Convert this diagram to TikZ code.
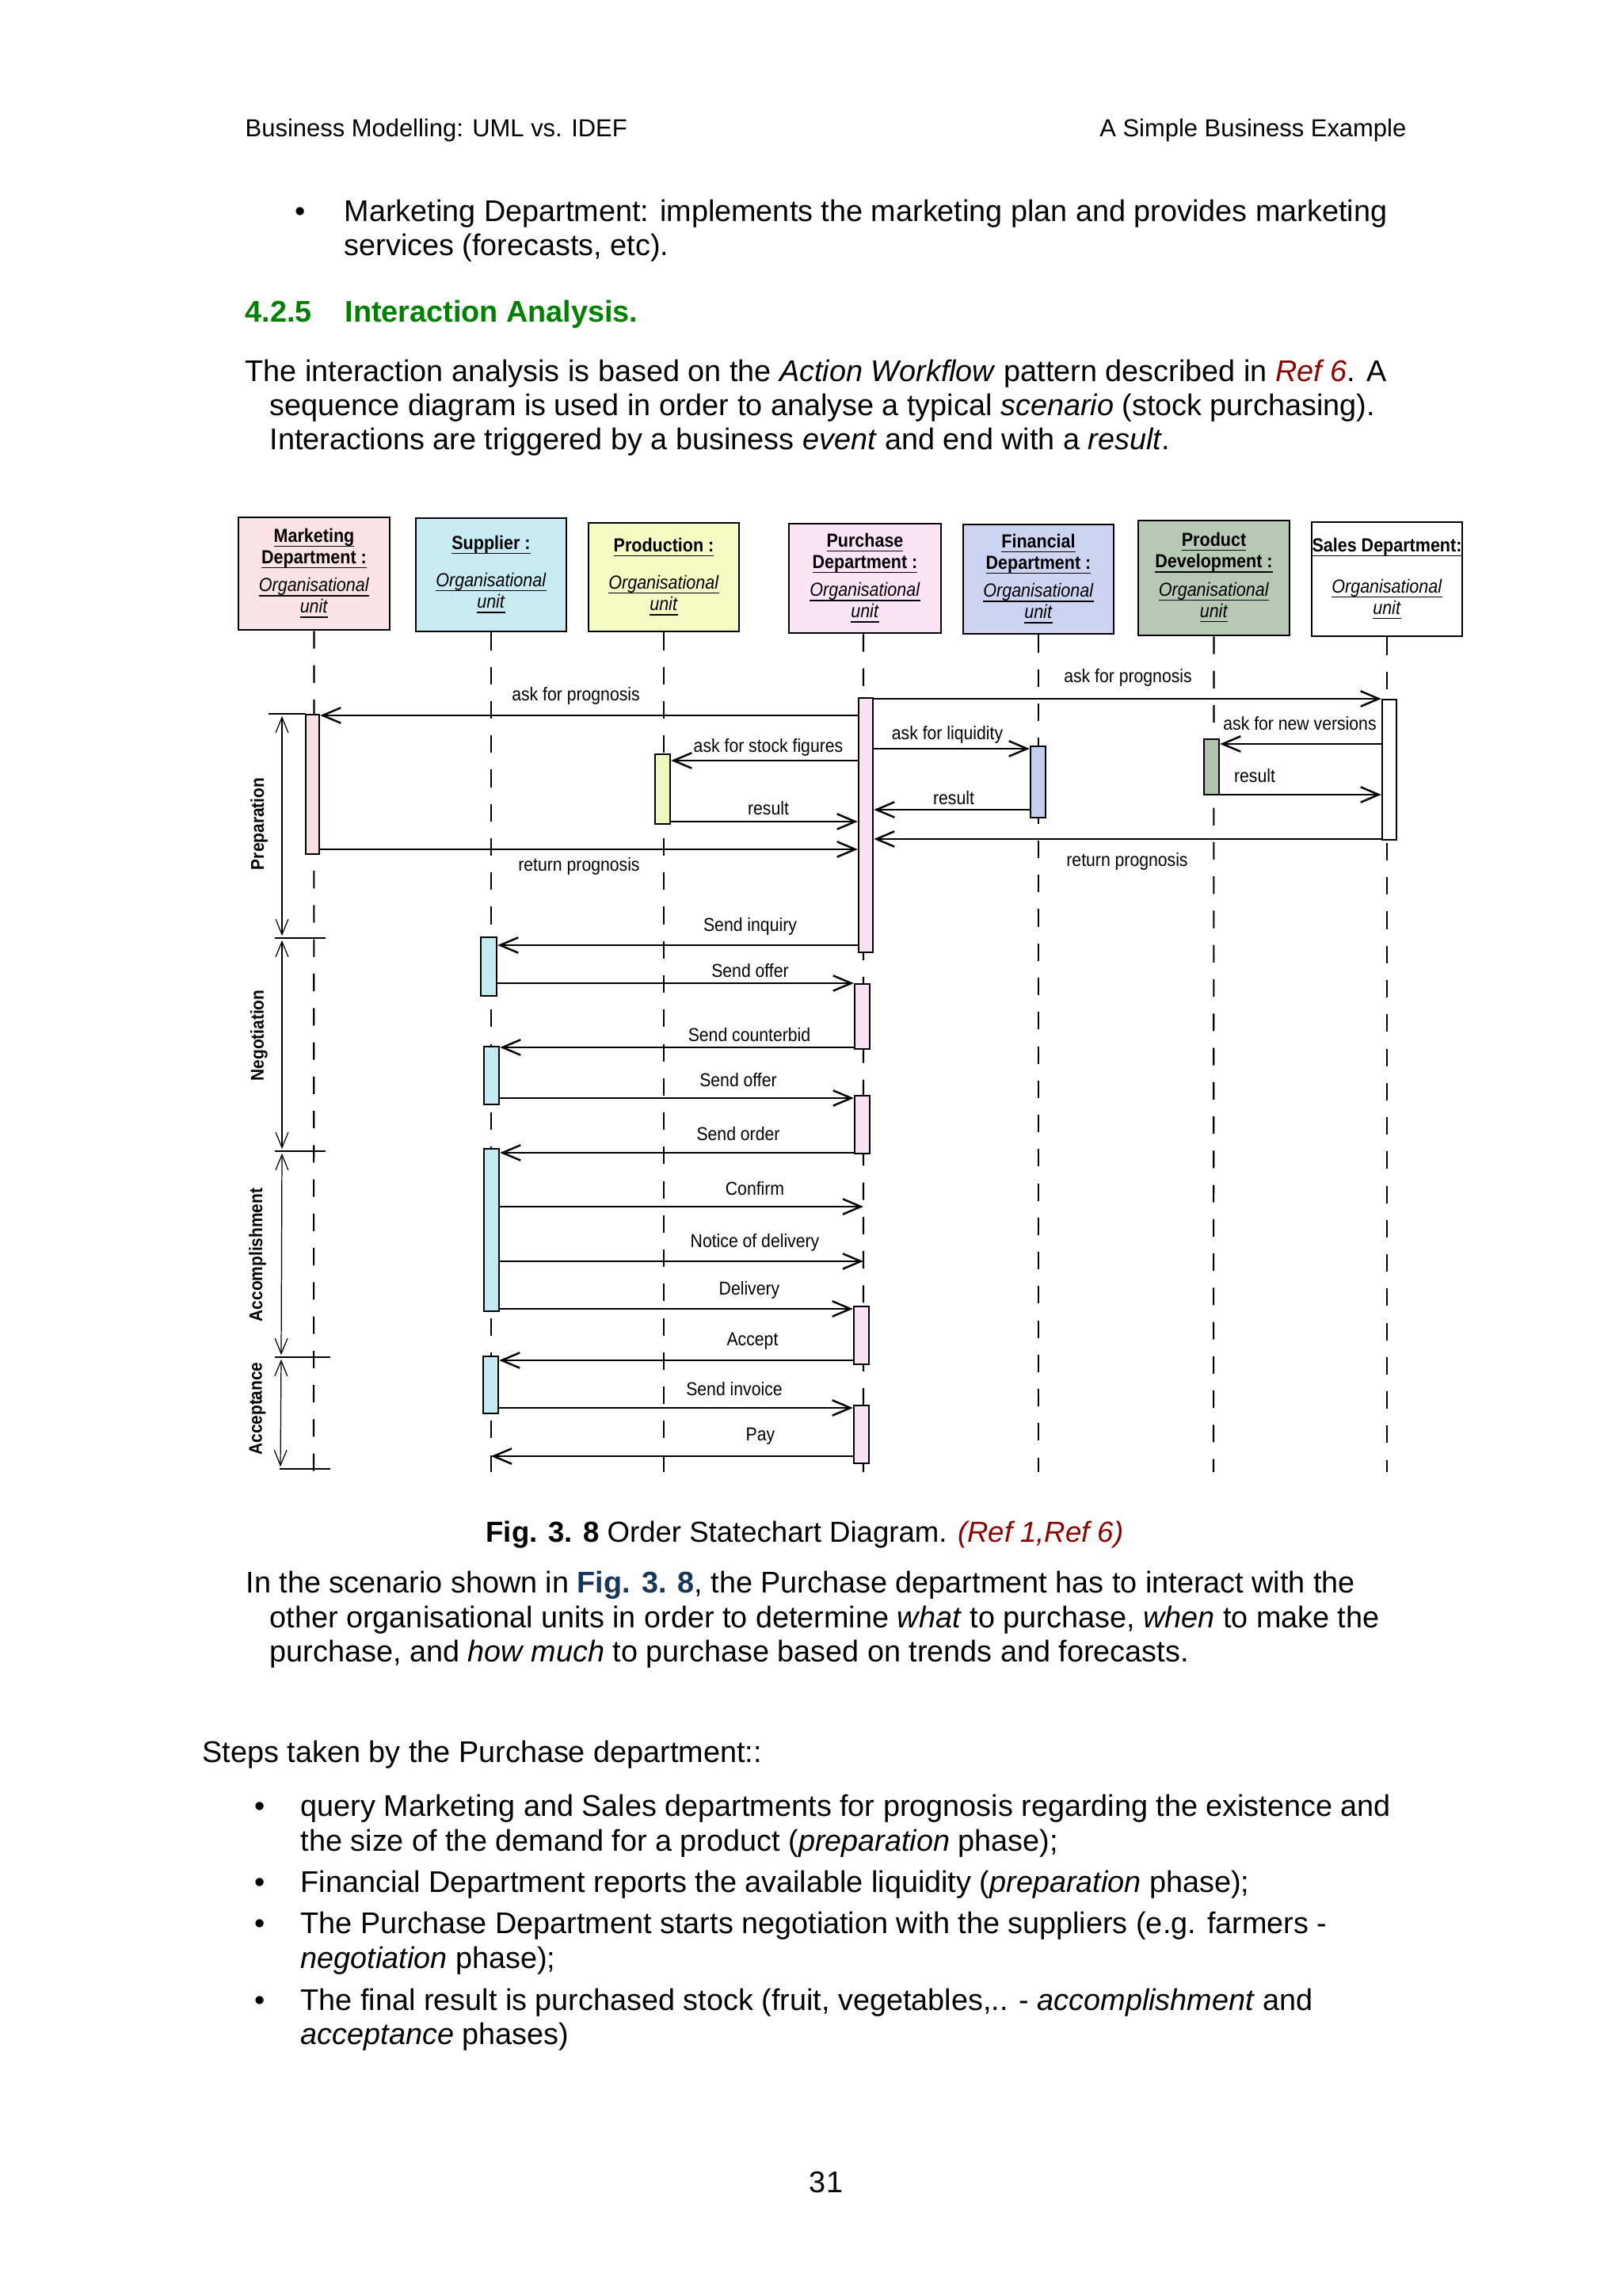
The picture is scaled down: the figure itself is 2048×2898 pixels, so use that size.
\documentclass[tikz,border=0pt]{standalone}
\usepackage{fontspec}
\setmainfont{Liberation Sans}
\newfontfamily\diagf[FakeStretch=0.9]{Liberation Sans}
\usetikzlibrary{fit,arrows.meta}
\definecolor{hgreen}{RGB}{0,128,0}
\definecolor{refred}{RGB}{140,0,0}
\definecolor{figblue}{RGB}{23,54,93}
\definecolor{cmkt}{RGB}{252,227,229}
\definecolor{csup}{RGB}{200,235,243}
\definecolor{cprod}{RGB}{245,249,195}
\definecolor{cpur}{RGB}{250,228,246}
\definecolor{cfin}{RGB}{205,212,241}
\definecolor{cdev}{RGB}{183,200,181}
\definecolor{bmkt}{RGB}{250,224,226}
\definecolor{bsup}{RGB}{196,234,242}
\definecolor{bprod}{RGB}{241,248,190}
\definecolor{bpur}{RGB}{248,226,244}
\definecolor{bfin}{RGB}{198,206,240}
\definecolor{bdev}{RGB}{176,196,174}
\newcommand{\hdb}[1]{\underbar{\textbf{#1}}}
\newcommand{\hdi}[1]{\underbar{\textit{#1}}}
\newcommand{\headfont}{\diagf\fontsize{6.8}{7.7}\selectfont\lineskiplimit=-6pt\relax}
\tikzset{
  txt/.style={anchor=base west, inner sep=0pt, font=\fontsize{10.75}{13}\selectfont},
  bul/.style={anchor=base, inner sep=0pt, font=\fontsize{10.75}{13}\selectfont},
  head/.style={draw, line width=0.8pt, inner sep=0pt, align=center, font=\headfont},
  hsize/.style 2 args={minimum width=#1*0.28453pt, minimum height=#2*0.28453pt},
  actbar/.style={draw, line width=0.7pt, inner sep=0pt},
  life/.style={line width=0.6pt, dash pattern=on 6.3pt off 6pt},
  msg/.style={line width=0.75pt, -{Straight Barb[length=6.5pt,width=5.5pt,line width=0.7pt]}},
  msglab/.style={font=\diagf\fontsize{6.7}{7.7}\selectfont, inner sep=0pt},
  phase/.style={line width=0.35pt, shorten >=0.8pt, shorten <=0.8pt,
    {Straight Barb[length=5.5pt,width=4.5pt]}-{Straight Barb[length=5.5pt,width=4.5pt]}},
  phaselab/.style={font=\diagf\bfseries\fontsize{6.6}{7.7}\selectfont, rotate=90, inner sep=0pt},
  ptick/.style={line width=0.5pt},
}
\begin{document}
\begin{tikzpicture}[x=0.01cm,y=-0.01cm]
\path[use as bounding box, fill=white] (0,0) rectangle (2048,2898);

% header
\node[txt, font=\fontsize{8.8}{10.5}\selectfont] (hd1) at (309,173) {Business Modelling: UML vs. IDEF};
\node[txt, anchor=base east, font=\fontsize{8.8}{10.5}\selectfont] (hd2) at (1776,173) {A Simple Business Example};

% first bullet
\node[bul] (bu0) at (379,280) {•};
\node[txt] (b1a) at (434,280) {Marketing Department: implements the marketing plan and provides marketing};
\node[txt] (b1b) at (434,323) {services (forecasts, etc).};

% heading
\node[txt, font=\fontsize{10.75}{13}\selectfont\bfseries, text=hgreen] (h1) at (309,407) {4.2.5};
\node[txt, font=\fontsize{10.75}{13}\selectfont\bfseries, text=hgreen] (h2) at (435,407) {Interaction Analysis.};

% paragraph 1
\node[txt] (p1a) at (309,482) {The interaction analysis is based on the \textit{Action Workflow} pattern described in \textcolor{refred}{\textit{Ref 6}}. A};
\node[txt] (p1b) at (340,525) {sequence diagram is used in order to analyse a typical \textit{scenario} (stock purchasing).};
\node[txt] (p1c) at (340,568) {Interactions are triggered by a business \textit{event} and end with a \textit{result}.};

% ---------- diagram: heads ----------
\node[head, fill=cmkt, hsize={191}{142}] (mkt) at (396.5,724)
  {\hdb{Marketing}\\\hdb{Department :}\\[2.4pt]\hdi{Organisational}\\\hdi{unit}};
\node[head, fill=csup, hsize={190}{143}] (sup) at (620,725.5)
  {\hdb{Supplier :}\\[5.8pt]\hdi{Organisational}\\\hdi{unit}};
\node[head, fill=cprod, hsize={190}{137}] (prod) at (838,728.5)
  {\hdb{Production :}\\[5.8pt]\hdi{Organisational}\\\hdi{unit}};
\node[head, fill=cpur, hsize={192}{138}] (pur) at (1092,730)
  {\hdb{Purchase}\\\hdb{Department :}\\[2.4pt]\hdi{Organisational}\\\hdi{unit}};
\node[head, fill=cfin, hsize={190}{138}] (fin) at (1311,731)
  {\hdb{Financial}\\\hdb{Department :}\\[2.4pt]\hdi{Organisational}\\\hdi{unit}};
\node[head, fill=cdev, hsize={191}{145}] (dev) at (1532.5,729.5)
  {\hdb{Product}\\\hdb{Development :}\\[2.4pt]\hdi{Organisational}\\\hdi{unit}};
\node[head, fill=white, hsize={190}{144}] (sal) at (1751,731)
  {\hdb{Sales Department:}\\[7pt]\hdi{Organisational}\\\hdi{unit}};

% lifelines
\coordinate (mkt-end) at (396,1858);
\coordinate (sup-end) at (620,1858);
\coordinate (prod-end) at (838,1858);
\coordinate (pur-end) at (1090,1858);
\coordinate (fin-end) at (1311,1858);
\coordinate (dev-end) at (1532,1858);
\coordinate (sal-end) at (1751,1858);
\draw[life] (mkt.south) -- (mkt-end);
\draw[life] (sup.south) -- (sup-end);
\draw[life] (prod.south) -- (prod-end);
\draw[life] ([xshift=-0.02cm]pur.south) -- (pur-end);
\draw[life] (fin.south) -- (fin-end);
\draw[life] (dev.south) -- (dev-end);
\draw[life] (sal.south) -- (sal-end);

% activation bars
\node[actbar, fill=bmkt, fit={(386,902)(403,1078)}] (m1) {};
\node[actbar, fill=bpur, fit={(1084,881)(1102,1202)}] (pu1) {};
\node[actbar, fill=bprod, fit={(827,952)(846,1040)}] (pr1) {};
\node[actbar, fill=bfin, fit={(1301,942)(1320,1032)}] (f1) {};
\node[actbar, fill=white, fit={(1745,883)(1763,1060)}] (s1) {};
\node[actbar, fill=bdev, fit={(1520,933)(1539,1003)}] (d1) {};
\node[actbar, fill=bsup, fit={(607,1183)(627,1257)}] (su1) {};
\node[actbar, fill=bpur, fit={(1079,1242)(1098,1324)}] (pu2) {};
\node[actbar, fill=bsup, fit={(611,1321)(630,1394)}] (su2) {};
\node[actbar, fill=bpur, fit={(1079,1383)(1098,1456)}] (pu3) {};
\node[actbar, fill=bsup, fit={(611,1450)(630,1655)}] (su3) {};
\node[actbar, fill=bpur, fit={(1078,1649)(1097,1722)}] (pu4) {};
\node[actbar, fill=bsup, fit={(610,1712)(629,1784)}] (su4) {};
\node[actbar, fill=bpur, fit={(1078,1774)(1097,1847)}] (pu5) {};

% messages
\draw[msg] (pu1.west |- 0,903) -- (m1.east |- 0,903);
\node[msglab] (l1) at (727,878) {ask for prognosis};
\draw[msg] (pu1.east |- 0,882) -- (s1.west |- 0,882);
\node[msglab] (l2) at (1424,855) {ask for prognosis};
\draw[msg] (pu1.west |- 0,960) -- (pr1.east |- 0,960);
\node[msglab] (l3) at (970,943) {ask for stock figures};
\draw[msg] (pu1.east |- 0,945) -- (f1.west |- 0,945);
\node[msglab] (l4) at (1196,927) {ask for liquidity};
\draw[msg] (s1.west |- 0,939) -- (d1.east |- 0,939);
\node[msglab] (l5) at (1641,913) {ask for new versions};
\draw[msg] (d1.east |- 0,1003) -- (s1.west |- 0,1003);
\node[msglab] (l6) at (1584,979) {result};
\draw[msg] (f1.west |- 0,1022) -- (pu1.east |- 0,1022);
\node[msglab] (l7) at (1204,1007) {result};
\draw[msg] (pr1.east |- 0,1037) -- (pu1.west |- 0,1037);
\node[msglab] (l8) at (970,1020) {result};
\draw[msg] (s1.west |- 0,1059) -- (pu1.east |- 0,1059);
\node[msglab] (l9) at (1423,1087) {return prognosis};
\draw[msg] (m1.east |- 0,1072) -- (pu1.west |- 0,1072);
\node[msglab] (l10) at (731,1093) {return prognosis};
\draw[msg] (pu1.west |- 0,1193) -- (su1.east |- 0,1193);
\node[msglab] (l11) at (947,1169) {Send inquiry};
\draw[msg] (su1.east |- 0,1241) -- (pu2.west |- 0,1241);
\node[msglab] (l12) at (947,1225) {Send offer};
\draw[msg] (pu2.west |- 0,1322) -- (su2.east |- 0,1322);
\node[msglab] (l13) at (946,1306) {Send counterbid};
\draw[msg] (su2.east |- 0,1386) -- (pu3.west |- 0,1386);
\node[msglab] (l14) at (932,1363) {Send offer};
\draw[msg] (pu3.west |- 0,1455) -- (su3.east |- 0,1455);
\node[msglab] (l15) at (932,1431) {Send order};
\draw[msg] (su3.east |- 0,1523) -- (pur-end |- 0,1523);
\node[msglab] (l16) at (953,1500) {Confirm};
\draw[msg] (su3.east |- 0,1592) -- (pur-end |- 0,1592);
\node[msglab] (l17) at (953,1568) {Notice of delivery};
\draw[msg] (su3.east |- 0,1652) -- (pu4.west |- 0,1652);
\node[msglab] (l18) at (946,1628) {Delivery};
\draw[msg] (pu4.west |- 0,1717) -- (su4.east |- 0,1717);
\node[msglab] (l19) at (950,1693) {Accept};
\draw[msg] (su4.east |- 0,1777) -- (pu5.west |- 0,1777);
\node[msglab] (l20) at (927,1753) {Send invoice};
\draw[msg] (pu5.west |- 0,1838) -- (sup-end |- 0,1838);
\node[msglab] (l21) at (960,1813) {Pay};

% phases
\coordinate (ph0) at (356,901);
\coordinate (ph1) at (356,1184);
\coordinate (ph2) at (356,1453);
\coordinate (ph3) at (355,1713);
\coordinate (ph4) at (354,1854);
\draw[ptick] (339,901) -- (386,901);
\draw[ptick] (347,1184) -- (411,1184);
\draw[ptick] (347,1453) -- (411,1453);
\draw[ptick] (347,1713) -- (417,1713);
\draw[ptick] (353,1854) -- (417,1854);
\draw[phase] (ph0) -- (ph1);
\draw[phase] (ph1) -- (ph2);
\draw[phase] (ph2) -- (ph3);
\draw[phase] (ph3) -- (ph4);
\node[phaselab] (ph-a) at (327,1040) {Preparation};
\node[phaselab] (ph-b) at (327,1307) {Negotiation};
\node[phaselab] (ph-c) at (325,1584) {Accomplishment};
\node[phaselab] (ph-d) at (325,1778) {Acceptance};

% caption
\node[txt, anchor=base, font=\fontsize{10.4}{13}\selectfont] (cap) at (1016,1946) {\textbf{Fig. 3. 8} Order Statechart Diagram. \textcolor{refred}{\textit{(Ref 1,Ref 6)}}};

% paragraph 2
\node[txt] (p2a) at (310,2010) {In the scenario shown in \textcolor{figblue}{\textbf{Fig. 3. 8}}, the Purchase department has to interact with the};
\node[txt] (p2b) at (340,2054) {other organisational units in order to determine \textit{what} to purchase, \textit{when} to make the};
\node[txt] (p2c) at (340,2097) {purchase, and \textit{how much} to purchase based on trends and forecasts.};

% steps
\node[txt] (st) at (255,2224) {Steps taken by the Purchase department::};
\node[bul] (bu1) at (328,2292) {•};
\node[txt] (s1a) at (379,2292) {query Marketing and Sales departments for prognosis regarding the existence and};
\node[txt] (s1b) at (379,2336) {the size of the demand for a product (\textit{preparation} phase);};
\node[bul] (bu2) at (328,2388) {•};
\node[txt] (s2a) at (379,2388) {Financial Department reports the available liquidity (\textit{preparation} phase);};
\node[bul] (bu3) at (328,2440) {•};
\node[txt] (s3a) at (379,2440) {The Purchase Department starts negotiation with the suppliers (e.g. farmers -};
\node[txt] (s3b) at (379,2484) {\textit{negotiation} phase);};
\node[bul] (bu4) at (328,2537) {•};
\node[txt] (s4a) at (379,2537) {The final result is purchased stock (fruit, vegetables,.. - \textit{accomplishment} and};
\node[txt] (s4b) at (379,2580) {\textit{acceptance} phases)};

% page number
\node[bul] (pg) at (1043,2767) {31};
\end{tikzpicture}
\end{document}
